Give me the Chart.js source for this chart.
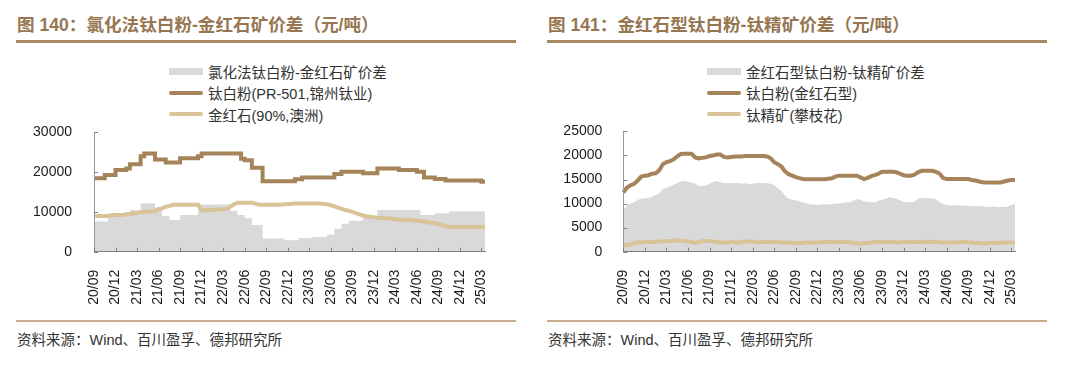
<!DOCTYPE html>
<html>
<head>
<meta charset="utf-8">
<script src="https://cdn.jsdelivr.net/npm/chart.js@4/dist/chart.umd.min.js"></script>
<style>
  body { margin: 0; width: 1080px; height: 371px; background: #fff; position: relative; overflow: hidden;
         font-family: "Liberation Sans", Arial, "Noto Sans CJK SC", sans-serif; }
  .title { position: absolute; top: 14px; font-size: 17.6px; font-weight: bold; color: #977752; white-space: nowrap; line-height: 22px; }
  .rule { position: absolute; top: 40px; height: 2.5px; width: 500px; background: #a88763; }
  .foot-rule { position: absolute; top: 320px; height: 1.5px; width: 500px; background: #c9ab8e; }
  .source { position: absolute; top: 331px; font-size: 14.5px; color: #333; line-height: 18px; white-space: nowrap; }
  .legend { position: absolute; top: 0; font-size: 14.5px; color: #333; }
  .legend .row { position: absolute; left: 0; height: 20px; white-space: nowrap; display: flex; align-items: center; }
  .sw { width: 34px; margin-right: 5px; }
  .sw.box { height: 7px; background: #d9d9d9; }
  .sw.line { height: 4px; border-radius: 2px; }
  canvas { position: absolute; }
</style>
</head>
<body>

<div class="title" style="left:17px">图 140：氯化法钛白粉-金红石矿价差（元/吨）</div>
<div class="rule" style="left:16px"></div>
<div class="legend" style="left:169px">
  <div class="row" style="top:61px"><div class="sw box"></div>氯化法钛白粉-金红石矿价差</div>
  <div class="row" style="top:82.5px"><div class="sw line" style="background:#a5845a"></div>钛白粉(PR-501,锦州钛业)</div>
  <div class="row" style="top:104px"><div class="sw line" style="background:#d8c496"></div>金红石(90%,澳洲)</div>
</div>
<canvas id="chart1" width="540" height="200" style="left:0;top:110px"></canvas>
<div class="foot-rule" style="left:16px"></div>
<div class="source" style="left:17px">资料来源：Wind、百川盈孚、德邦研究所</div>

<div class="title" style="left:548px">图 141：金红石型钛白粉-钛精矿价差（元/吨）</div>
<div class="rule" style="left:547px"></div>
<div class="legend" style="left:707px">
  <div class="row" style="top:61px"><div class="sw box"></div>金红石型钛白粉-钛精矿价差</div>
  <div class="row" style="top:82.5px"><div class="sw line" style="background:#a5845a"></div>钛白粉(金红石型)</div>
  <div class="row" style="top:104px"><div class="sw line" style="background:#d8c496"></div>钛精矿(攀枝花)</div>
</div>
<canvas id="chart2" width="540" height="200" style="left:540px;top:110px"></canvas>
<div class="foot-rule" style="left:547px"></div>
<div class="source" style="left:548px">资料来源：Wind、百川盈孚、德邦研究所</div>

<script>
// 半月度时间点：2020-09 上半月 到 2025-04 上半月，共 110 个
const periods = [];
for (let k = 0; k < 110; k++) {
  const mi = 8 + Math.floor(k / 2);
  const yr = 2020 + Math.floor(mi / 12), mo = mi % 12 + 1;
  periods.push(yr + '-' + String(mo).padStart(2, '0') + (k % 2 ? '-16' : '-01'));
}

// 每 6 个点（3 个月）一个刻度标签
const tickLabels = ['20/09', '20/12', '21/03', '21/06', '21/09', '21/12', '22/03', '22/06', '22/09', '22/12',
  '23/03', '23/06', '23/09', '23/12', '24/03', '24/06', '24/09', '24/12', '25/03'];

// 图 140：氯化法钛白粉 (PR-501, 锦州钛业)
const tio2Chloride = [
  18500, 18500, 18500, 18500, 19300, 19300, 19300, 20550, 20550, 20550,
  20950, 22000, 22000, 22000, 24000, 24700, 24700, 24700, 23200, 23200,
  23200, 22400, 22400, 22400, 22400, 23500, 23500, 23500, 23500, 23500,
  24000, 24700, 24700, 24700, 24700, 24700, 24700, 24700, 24700, 24700,
  24700, 24700, 23400, 23000, 23000, 21100, 21100, 21100, 17700, 17700,
  17700, 17700, 17700, 17700, 17700, 17700, 17700, 18250, 18250, 18650,
  18650, 18650, 18650, 18650, 18650, 18650, 18650, 18650, 19550, 19550,
  20100, 20100, 20100, 20100, 20100, 20100, 19700, 19700, 19700, 19700,
  20950, 20950, 20950, 20950, 20950, 20950, 20550, 20550, 20550, 20550,
  20550, 20100, 20100, 18650, 18650, 18650, 18300, 18300, 18300, 17900,
  17900, 17900, 17900, 17900, 17900, 17900, 17900, 17900, 17900, 17600
];
// 金红石 (90%, 澳洲)
const rutileAus = [
  9000, 9000, 9000, 9000, 9000, 9200, 9200, 9200, 9200, 9400,
  9500, 9600, 9700, 9900, 10000, 10100, 10100, 10200, 10700, 10900,
  11300, 11500, 11800, 11800, 11800, 11800, 11800, 11800, 11800, 11800,
  10400, 10400, 10500, 10500, 10600, 10600, 10700, 10800, 11300, 11900,
  12300, 12300, 12300, 12300, 12300, 12100, 11800, 11800, 11800, 11800,
  11800, 11800, 11800, 11900, 12000, 12000, 12150, 12150, 12150, 12150,
  12150, 12150, 12150, 12150, 12000, 11900, 11700, 11400, 11100, 10800,
  10500, 10300, 10000, 9700, 9400, 9100, 8900, 8800, 8700, 8500,
  8500, 8400, 8400, 8300, 8100, 8100, 8000, 8000, 8000, 7900,
  7800, 7700, 7600, 7400, 7300, 7200, 7000, 6700, 6400, 6200,
  6200, 6200, 6200, 6200, 6200, 6200, 6200, 6200, 6200, 6200
];
// 氯化法钛白粉-金红石矿价差
const spread1 = [
  7600, 7600, 7600, 7600, 7600, 9300, 9300, 9300, 9300, 9300,
  9300, 10500, 10500, 10500, 12200, 12200, 12200, 12200, 11100, 11100,
  9000, 9000, 8000, 8000, 8000, 9200, 9200, 9200, 9200, 9200,
  11900, 11900, 11900, 11900, 11900, 11900, 11900, 11900, 11900, 10300,
  10300, 9200, 9200, 8400, 8400, 6700, 6700, 6700, 3300, 3300,
  3300, 3300, 3300, 3300, 2900, 2900, 2900, 2900, 3450, 3450,
  3450, 3450, 3700, 3700, 3700, 3700, 4300, 4300, 5750, 5750,
  7000, 7000, 7800, 7800, 7800, 7800, 8600, 8600, 8600, 8600,
  10500, 10500, 10500, 10500, 10500, 10500, 10500, 10500, 10500, 10500,
  10500, 10500, 9200, 9200, 9200, 9200, 9700, 9700, 9700, 9700,
  10200, 10200, 10200, 10200, 10200, 10200, 10200, 10200, 10200, 10200
];

// 图 141：钛白粉 (金红石型)
const tio2Rutile = [
  12300, 13300, 13800, 14100, 14800, 15600, 15800, 15900, 16200, 16300,
  16900, 18200, 18600, 18800, 19200, 19800, 20300, 20350, 20350, 20350,
  19600, 19400, 19500, 19600, 19900, 20000, 20200, 20200, 19700, 19600,
  19700, 19800, 19800, 19800, 19900, 19900, 19900, 19900, 19900, 19900,
  19800, 19400, 18600, 18200, 17700, 16700, 16100, 15800, 15500, 15300,
  15100, 15050, 15050, 15050, 15050, 15050, 15050, 15150, 15250, 15600,
  15800, 15800, 15800, 15800, 15800, 15800, 15450, 15100, 15350, 15700,
  15900, 16200, 16600, 16600, 16600, 16600, 16500, 16200, 15900, 15800,
  15800, 16000, 16500, 16800, 16800, 16800, 16800, 16600, 16250, 15300,
  15100, 15100, 15100, 15100, 15100, 15100, 15100, 14900, 14800, 14600,
  14450, 14400, 14400, 14400, 14400, 14400, 14600, 14800, 14900, 14900
];
// 钛精矿 (攀枝花)
const ilmenitePzh = [
  1400, 1400, 1500, 1800, 1900, 1900, 2000, 2000, 2000, 2000,
  2100, 2100, 2200, 2200, 2300, 2400, 2300, 2200, 2100, 2000,
  1800, 2000, 2200, 2200, 2200, 2100, 2000, 1900, 1900, 1900,
  2000, 2000, 1900, 2000, 2100, 2100, 2100, 2000, 2000, 2000,
  2000, 2000, 2000, 2000, 1900, 1900, 1900, 1800, 1800, 1800,
  1800, 1900, 1900, 1900, 1900, 1900, 2000, 2000, 2000, 2000,
  2000, 2000, 2000, 2000, 1800, 1700, 1700, 1800, 1800, 1900,
  2000, 2000, 2000, 2000, 2000, 2000, 1900, 1900, 2000, 2000,
  2000, 2000, 2000, 2000, 2000, 2100, 2000, 2000, 2000, 1900,
  1900, 1900, 1900, 1900, 2000, 2000, 1900, 1900, 1800, 1800,
  1700, 1700, 1800, 1800, 1800, 1900, 1900, 1900, 1900, 1850
];
// 金红石型钛白粉-钛精矿价差
const spread2 = [
  8600, 9600, 10000, 10300, 10800, 11000, 11100, 11200, 11400, 11800,
  12100, 13000, 13300, 13600, 13900, 14300, 14600, 14700, 14600, 14400,
  14100, 13700, 13600, 13800, 14100, 14500, 14700, 14500, 14300, 14300,
  14200, 14300, 14200, 14100, 14200, 14000, 14100, 14300, 14200, 14300,
  14250, 14100, 13800, 13200, 12600, 11700, 11000, 10800, 10700, 10500,
  10300, 10000, 9800, 9800, 9700, 9800, 9800, 9800, 9900, 9950,
  10000, 10100, 10200, 10300, 10600, 10900, 10800, 10500, 10400, 10300,
  10300, 10600, 10800, 11000, 11300, 11200, 11000, 10700, 10400, 10300,
  10300, 10400, 11000, 11100, 11200, 11100, 11100, 10900, 10300, 9900,
  9700, 9600, 9700, 9600, 9600, 9600, 9500, 9500, 9400, 9500,
  9400, 9400, 9300, 9400, 9300, 9300, 9300, 9400, 9700, 9900
];

const BROWN = '#a5845a';
const TAN = '#d8c496';
const GREY = '#d9d9d9';
const AXIS = '#808080';

// 刻度线朝内画
const innerTicks = {
  id: 'innerTicks',
  afterDraw(chart) {
    const { ctx, chartArea: a, scales: { x, y } } = chart;
    ctx.save();
    ctx.strokeStyle = AXIS;
    ctx.lineWidth = 1;
    ctx.beginPath();
    for (let k = 0; k < tickLabels.length; k++) {
      const px = Math.round(x.getPixelForValue(k * 6)) + 0.5;
      ctx.moveTo(px, a.bottom);
      ctx.lineTo(px, a.bottom - 4);
    }
    y.ticks.forEach(t => {
      const py = Math.round(y.getPixelForValue(t.value)) + 0.5;
      ctx.moveTo(a.left, py);
      ctx.lineTo(a.left + 4, py);
    });
    ctx.stroke();
    ctx.restore();
  }
};

function makeChart(id, spread, product, ore, yMax, yStep, stepped, yWidth, pad) {
  return new Chart(document.getElementById(id), {
    type: 'line',
    data: {
      labels: periods,
      datasets: [
        { data: product, borderColor: BROWN, borderWidth: 4, pointRadius: 0, fill: false,
          stepped: stepped ? 'after' : false, order: 1 },
        { data: ore, borderColor: TAN, borderWidth: 4, pointRadius: 0, fill: false, order: 2 },
        { data: spread, borderWidth: 0, borderColor: GREY, backgroundColor: GREY, pointRadius: 0,
          fill: 'origin', stepped: stepped ? 'after' : false, order: 3 }
      ]
    },
    options: {
      responsive: false,
      animation: false,
      layout: { padding: pad },
      plugins: { legend: { display: false }, tooltip: { enabled: false } },
      scales: {
        x: {
          type: 'category',
          offset: false,
          grid: { display: false },
          border: { display: true, color: AXIS, z: 1 },
          ticks: {
            autoSkip: false, minRotation: 90, maxRotation: 90, padding: 10,
            color: '#1a1a1a', font: { family: 'Liberation Sans', size: 14 },
            callback: (v, i) => (i % 6 === 0 ? tickLabels[i / 6] : '')
          },
          afterFit: s => { s.height = 58.3; }
        },
        y: {
          min: 0, max: yMax,
          grid: { display: false },
          border: { display: true, color: '#999', z: 1 },
          ticks: {
            stepSize: yStep, padding: pad.tickPad,
            color: '#1a1a1a', font: { family: 'Liberation Sans', size: 14 },
            callback: v => String(v)
          },
          afterFit: s => { s.width = yWidth; }
        }
      }
    },
    plugins: [innerTicks]
  });
}

makeChart('chart1', spread1, tio2Chloride, rutileAus, 30000, 10000, true, 94,
  { top: 20, right: 55, left: 0, bottom: 0, tickPad: 14 });
makeChart('chart2', spread2, tio2Rutile, ilmenitePzh, 25000, 5000, false, 83.3,
  { top: 16, right: 65, left: 0, bottom: 0, tickPad: 13 });
</script>
</body>
</html>
